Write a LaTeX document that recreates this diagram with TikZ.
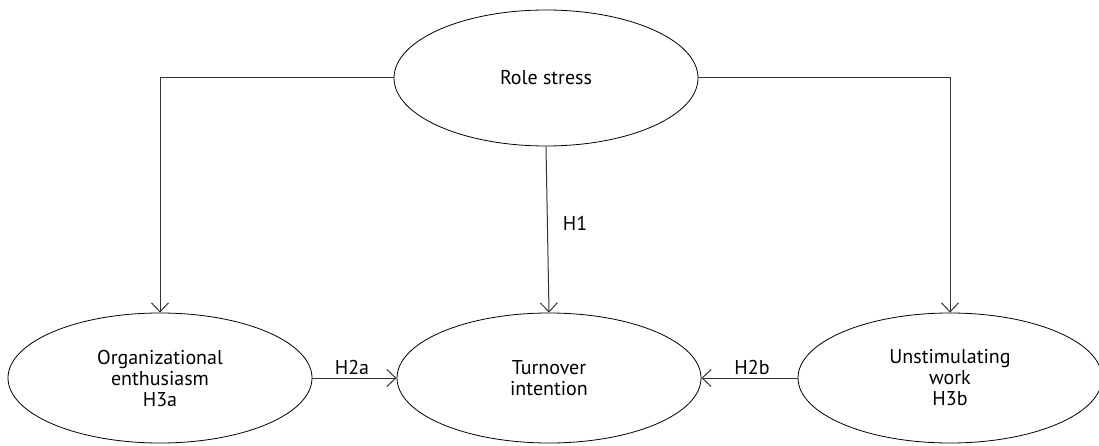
\documentclass[tikz,border=0pt]{standalone}
\usepackage{fontspec}
\setmainfont{PT Sans}
\usetikzlibrary{shapes.geometric,arrows.meta}
\begin{document}
\begin{tikzpicture}[x=1pt,y=-1pt,
  ell/.style={draw=black,line width=0.8pt,ellipse,minimum width=304pt,minimum height=130pt,inner sep=0pt,align=center,font=\fontsize{20}{21}\selectfont},
  lowtext/.style={execute at begin node={\vspace*{10pt}}},
  conn/.style={draw=black!80,line width=1pt,-{Straight Barb[length=9pt,width=17pt,line width=1pt]}},
  lbl/.style={font=\fontsize{20}{21}\selectfont,inner sep=0pt}]
\useasboundingbox (0,0) rectangle (1099,446);
\node[ell,minimum height=136pt] (rs) at (546,78) {Role stress};
\node[ell,lowtext] (oe) at (160,378) {Organizational\\enthusiasm\\H3a};
\node[ell,lowtext] (ti) at (549,378) {Turnover\\intention};
\node[ell,lowtext] (uw) at (950,378) {Unstimulating\\work\\H3b};
\draw[conn] (rs.west) -| (oe.north);
\draw[conn] (rs.east) -| (uw.north);
\draw[conn] (rs.south) -- (ti.north);
\draw[conn] (oe.east) -- (ti.west);
\draw[conn] (uw.west) -- (ti.east);
\node[lbl] (h1) at (575,223) {H1};
\node[lbl] (h2a) at (352,367) {H2a};
\node[lbl] (h2b) at (752,367) {H2b};
\end{tikzpicture}
\end{document}
